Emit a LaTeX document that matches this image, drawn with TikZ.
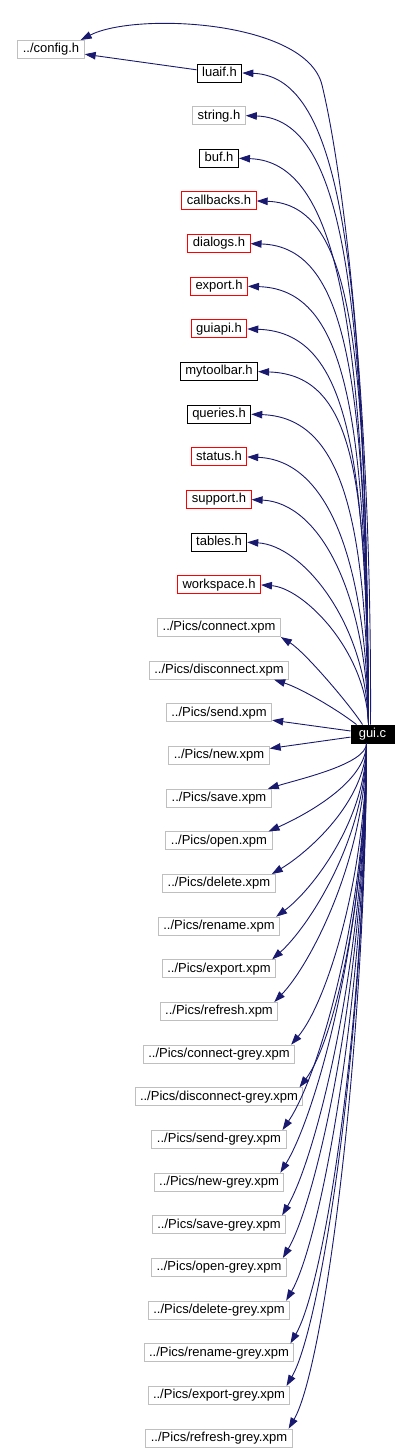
\documentclass[tikz,border=0pt]{standalone}
\usepackage{fontspec}
\setmainfont{Liberation Sans}
\usetikzlibrary{arrows.meta,calc}
\definecolor{edgecol}{HTML}{191970}
\definecolor{greyb}{HTML}{BFBFBF}
\begin{document}
\begin{tikzpicture}[x=1pt,y=-1pt,
  box/.style={draw, line width=1pt, inner xsep=5pt, inner ysep=0pt, minimum height=18pt,
    text height=9.5pt, text depth=2.8pt, font=\fontsize{13}{15}\selectfont},
  greybox/.style={box, draw=greyb},
  redbox/.style={box, draw=red},
  blackbox/.style={box, draw=black},
  guibox/.style={box, draw=black, fill=black, text=white, minimum width=43pt},
  edge/.style={draw=edgecol, line width=0.9pt, -{Triangle[length=11pt,width=7.5pt]}}
]
\fill[white] (0,0) rectangle (409,1454);
\useasboundingbox (0,0) rectangle (409,1454);

\node[guibox] (gui) at (372.5,734) {gui.c};
\node[greybox] (cfg) at (51,49.5) {../config.h};
\node[blackbox] (luaif) at (219.5,73) {luaif.h};
\node[greybox] (string) at (219,115.66) {string.h};
\node[blackbox] (buf) at (219,158.32) {buf.h};
\node[redbox] (callbacks) at (219,200.98) {callbacks.h};
\node[redbox] (dialogs) at (219,243.64) {dialogs.h};
\node[redbox] (export) at (219,286.3) {export.h};
\node[redbox] (guiapi) at (219,328.96) {guiapi.h};
\node[blackbox] (mytoolbar) at (219,371.62) {mytoolbar.h};
\node[blackbox] (queries) at (219,414.28) {queries.h};
\node[redbox] (status) at (219,456.94) {status.h};
\node[redbox] (support) at (219,499.6) {support.h};
\node[blackbox] (tables) at (219,542.26) {tables.h};
\node[redbox] (workspace) at (219,584.92) {workspace.h};
\node[greybox] (pconnect) at (219,627.58) {../Pics/connect.xpm};
\node[greybox] (pdisconnect) at (219,670.24) {../Pics/disconnect.xpm};
\node[greybox] (psend) at (219,712.9) {../Pics/send.xpm};
\node[greybox] (pnew) at (219,755.56) {../Pics/new.xpm};
\node[greybox] (psave) at (219,798.22) {../Pics/save.xpm};
\node[greybox] (popen) at (219,840.88) {../Pics/open.xpm};
\node[greybox] (pdelete) at (219,883.54) {../Pics/delete.xpm};
\node[greybox] (prename) at (219,926.2) {../Pics/rename.xpm};
\node[greybox] (pexport) at (219,968.86) {../Pics/export.xpm};
\node[greybox] (prefresh) at (219,1011.52) {../Pics/refresh.xpm};
\node[greybox] (gconnect) at (219,1054.18) {../Pics/connect-grey.xpm};
\node[greybox] (gdisconnect) at (219,1096.84) {../Pics/disconnect-grey.xpm};
\node[greybox] (gsend) at (219,1139.5) {../Pics/send-grey.xpm};
\node[greybox] (gnew) at (219,1182.16) {../Pics/new-grey.xpm};
\node[greybox] (gsave) at (219,1224.82) {../Pics/save-grey.xpm};
\node[greybox] (gopen) at (219,1267.48) {../Pics/open-grey.xpm};
\node[greybox] (gdelete) at (219,1310.14) {../Pics/delete-grey.xpm};
\node[greybox] (grename) at (219,1352.8) {../Pics/rename-grey.xpm};
\node[greybox] (gexport) at (219,1395.46) {../Pics/export-grey.xpm};
\node[greybox] (grefresh) at (219,1438.12) {../Pics/refresh-grey.xpm};

% luaif -> config
\draw[edge] (luaif) -- (cfg);
% gui -> config (over the top)
\draw[edge] ($(gui.north)+(-2,0)$) .. controls (372,420) and (345,180) .. (322,85)
   .. controls (306,20) and (135,12) .. ($(cfg.north east)+(-4,0)$);

% upper edges
\foreach \n [count=\k from 0] in {luaif,string,buf,callbacks,dialogs,export,guiapi,mytoolbar,queries,status,support,tables,workspace} {
  \pgfmathsetmacro\myy{73+42.66*\k}
  \pgfmathsetmacro\myd{725-\myy}
  \pgfmathsetmacro\mya{min(100,0.3*\myd)}
  \pgfmathsetmacro\myf{0.3+0.25*max(0,1-\myd/400)}
  \pgfmathsetmacro\mycy{\myy+\myf*\myd}
  \draw[edge] ($(gui.north)+(-4,0)$) .. controls (366,\mycy) and ($(\n.east)+(\mya,3)$) .. (\n.east);
}

% near edges
\draw[edge] ($(gui.north)+(-10,0)$) .. controls (350,705) and (305,652) .. (pconnect.south east);
\draw[edge] ($(gui.north west)+(6,0)$) .. controls (335,708) and (300,688) .. ($(pdisconnect.south east)+(-15,0)$);
\draw[edge] (gui) -- (psend);
\draw[edge] (gui) -- (pnew);

% lower edges
\foreach \n [count=\k from 17] in {psave,popen,pdelete,prename,pexport,prefresh,gconnect,gdisconnect,gsend,gnew,gsave,gopen,gdelete,grename,gexport,grefresh} {
  \pgfmathsetmacro\myy{73+42.66*\k-9}
  \pgfmathsetmacro\myd{\myy-743}
  \pgfmathsetmacro\myb{min(60,0.12*\myd+5)}
  \pgfmathsetmacro\mycy{743+0.45*\myd}
  \draw[edge] ($(gui.south)+(-6,0)$) .. controls (366,\mycy) and ($(\n.north east)+(31,-\myb)$) .. ($(\n.north east)+(-4,0)$);
}
\end{tikzpicture}
\end{document}
